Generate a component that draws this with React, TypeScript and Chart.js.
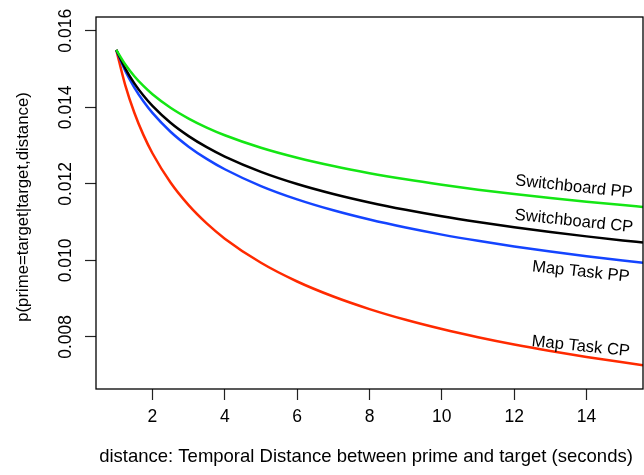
import React, { useEffect, useRef } from "react";
import { Chart, registerables } from "chart.js";

Chart.register(...registerables);

// ---- data ----
const distances = [1, 1.25, 1.5, 1.75, 2, 2.5, 3, 3.5, 4, 5, 6, 7, 8, 9, 10, 11, 12, 13, 14, 15, 15.56];
const switchboardPP = [0.0155, 0.015117, 0.014812, 0.014558, 0.014342, 0.013988, 0.013706, 0.013471, 0.013271, 0.012943, 0.012682, 0.012465, 0.01228, 0.012119, 0.011977, 0.011849, 0.011734, 0.01163, 0.011534, 0.011445, 0.011398];
const switchboardCP = [0.0155, 0.015013, 0.014627, 0.014308, 0.014037, 0.013596, 0.013247, 0.012958, 0.012713, 0.012314, 0.011996, 0.011735, 0.011513, 0.011321, 0.011151, 0.011001, 0.010865, 0.010741, 0.010628, 0.010523, 0.010468];
const mapTaskPP = [0.0155, 0.01495, 0.014515, 0.014157, 0.013854, 0.013362, 0.012973, 0.012653, 0.012382, 0.011943, 0.011595, 0.011309, 0.011067, 0.010858, 0.010674, 0.010511, 0.010363, 0.01023, 0.010108, 0.009995, 0.009936];
const mapTaskCP = [0.0155, 0.014574, 0.013858, 0.01328, 0.0128, 0.012034, 0.011443, 0.010966, 0.010569, 0.009938, 0.009449, 0.009056, 0.008728, 0.008448, 0.008206, 0.007993, 0.007803, 0.007633, 0.007478, 0.007337, 0.007263];

const seriesNames = ["Switchboard PP", "Switchboard CP", "Map Task PP", "Map Task CP"];
const xTicks = [2, 4, 6, 8, 10, 12, 14];
const yTicks = [0.008, 0.01, 0.012, 0.014, 0.016];
const yTickLabels = ["0.008", "0.010", "0.012", "0.014", "0.016"];
const xTitle = "distance: Temporal Distance between prime and target (seconds)";
const yTitle = "p(prime=target|target,distance)";

// label anchors (data coordinates)
const labelX = [13.65, 13.65, 13.84, 13.84];
const labelY = [0.01192, 0.01102, 0.0097, 0.00775];

const colors = ["#14e614", "#000000", "#1444ff", "#ff2a00"];
const FONT = "'Liberation Sans', Arial, Helvetica, sans-serif";

export default function App() {
  const ref = useRef<HTMLCanvasElement | null>(null);

  useEffect(() => {
    const canvas = ref.current;
    if (!canvas) return;
    const series = [switchboardPP, switchboardCP, mapTaskPP, mapTaskCP];

    const overlay = {
      id: "rOverlay",
      afterDraw(chart: any) {
        const ctx = chart.ctx as CanvasRenderingContext2D;
        const { left, right, top, bottom } = chart.chartArea;
        const xs = chart.scales.x;
        const ys = chart.scales.y;
        ctx.save();
        ctx.strokeStyle = "#000";
        ctx.lineWidth = 1.3;
        ctx.strokeRect(left, top, right - left, bottom - top);
        ctx.fillStyle = "#000";
        ctx.textAlign = "center";
        ctx.textBaseline = "middle";
        // y tick labels
        ctx.font = `17.5px ${FONT}`;
        yTicks.forEach((v, i) => {
          const y = ys.getPixelForValue(v);
          ctx.save();
          ctx.translate(66, y);
          ctx.rotate(-Math.PI / 2);
          ctx.fillText(yTickLabels[i], 0, 0);
          ctx.restore();
        });
        // y title
        ctx.font = `16.8px ${FONT}`;
        ctx.save();
        ctx.translate(23, 207);
        ctx.rotate(-Math.PI / 2);
        ctx.fillText(yTitle, 0, 0);
        ctx.restore();
        // x title
        ctx.font = `18.5px ${FONT}`;
        ctx.fillText(xTitle, 366, 457);
        // curve labels
        ctx.font = `16.6px ${FONT}`;
        seriesNames.forEach((name, i) => {
          const px = xs.getPixelForValue(labelX[i]);
          const py = ys.getPixelForValue(labelY[i]);
          ctx.save();
          ctx.translate(px, py);
          ctx.rotate((6 * Math.PI) / 180);
          ctx.fillText(name, 0, 0);
          ctx.restore();
        });
        ctx.restore();
      },
    };

    const chart = new Chart(canvas, {
      type: "line",
      data: {
        datasets: series.map((arr, i) => ({
          label: seriesNames[i],
          data: distances.map((d, j) => ({ x: d, y: arr[j] })),
          borderColor: colors[i],
          borderWidth: 2.5,
          pointRadius: 0,
          fill: false,
          cubicInterpolationMode: "monotone" as const,
        })),
      },
      options: {
        responsive: false,
        animation: false,
        events: [],
        layout: { padding: { top: 17, right: 1, left: 0, bottom: 0 } },
        plugins: { legend: { display: false }, tooltip: { enabled: false } },
        scales: {
          x: {
            type: "linear",
            min: 0.44,
            max: 15.56,
            afterBuildTicks: (s: any) => {
              s.ticks = xTicks.map((v) => ({ value: v }));
            },
            afterFit: (s: any) => {
              s.height = 86;
            },
            ticks: {
              color: "#000",
              font: { family: FONT, size: 17.5 },
              padding: 7,
              maxRotation: 0,
              minRotation: 0,
              callback: (v: any) => String(v),
            },
            grid: {
              drawOnChartArea: false,
              drawTicks: true,
              tickLength: 11,
              tickColor: "#222",
              tickWidth: 1.2,
            },
            border: { display: false },
          },
          y: {
            type: "linear",
            min: 0.00664,
            max: 0.01636,
            afterBuildTicks: (s: any) => {
              s.ticks = yTicks.map((v) => ({ value: v }));
            },
            afterFit: (s: any) => {
              s.width = 96;
            },
            ticks: { display: false },
            grid: {
              drawOnChartArea: false,
              drawTicks: true,
              tickLength: 11,
              tickColor: "#222",
              tickWidth: 1.2,
            },
            border: { display: false },
          },
        },
      },
      plugins: [overlay],
    });

    return () => {
      chart.destroy();
    };
  }, []);

  return (
    <div style={{ position: "absolute", left: 0, top: 0, width: 644, height: 475, background: "#fff" }}>
      <canvas ref={ref} width={644} height={475} style={{ display: "block" }} />
    </div>
  );
}
